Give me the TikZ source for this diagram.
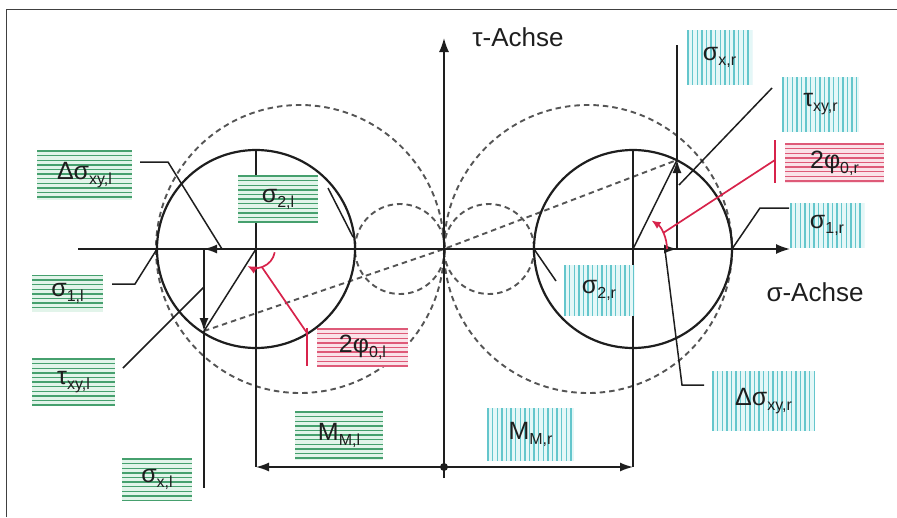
\documentclass[tikz,border=0pt]{standalone}
\usepackage{fontspec}
\setmainfont{Liberation Sans}
\usetikzlibrary{arrows.meta}
\definecolor{ink}{RGB}{30,30,30}
\definecolor{dashgray}{RGB}{85,85,85}
\definecolor{gline}{RGB}{70,160,110}
\definecolor{gbg}{RGB}{226,244,234}
\definecolor{cline}{RGB}{100,198,204}
\definecolor{cbg}{RGB}{228,247,247}
\definecolor{rline}{RGB}{222,90,120}
\definecolor{rbg}{RGB}{250,226,232}
\definecolor{redink}{RGB}{215,35,75}
\newcommand\sbs[1]{\raisebox{-5pt}{\fontsize{16}{16}\selectfont #1}}
\tikzset{
 hstripes/.style={path picture={\foreach \k in {0,...,16}{\draw[#1,line width=1.4pt] ([yshift=-\k*4.6pt-1pt]path picture bounding box.north west) -- ([yshift=-\k*4.6pt-1pt]path picture bounding box.north east);}}},
 vstripes/.style={path picture={\foreach \k in {0,...,30}{\draw[#1,line width=1.4pt] ([xshift=\k*4.6pt+1pt]path picture bounding box.north west) -- ([xshift=\k*4.6pt+1pt]path picture bounding box.south west);}}},
 lab/.style={inner sep=0pt, text=ink, font=\fontsize{25}{25}\selectfont},
 glab/.style={lab, fill=gbg, hstripes=gline},
 clab/.style={lab, fill=cbg, vstripes=cline},
 rlab/.style={lab, fill=rbg, hstripes=rline},
 axlab/.style={inner sep=0pt, text=ink, font=\fontsize{26}{26}\selectfont},
 ax/.style={draw=ink, line width=1.6pt},
 circ/.style={draw=ink, line width=2.2pt},
 dsh/.style={draw=dashgray, line width=1.9pt, dash pattern=on 5.5pt off 4pt},
 ln/.style={draw=ink, line width=1.5pt},
 rl/.style={draw=redink, line width=1.7pt},
 bigtip/.style={-{Latex[length=14pt,width=10pt]}},
 tip/.style={-{Latex[length=13pt,width=9pt]}},
 redtip/.style={-{Latex[length=9pt,width=8pt]}},
 frame/.style={draw=ink!85, line width=1.8pt}
}
\begin{document}
\begin{tikzpicture}[x=1pt,y=-1pt]
\useasboundingbox (0,0) rectangle (897,517);
% frame
\coordinate (F1) at (6.5,517); \coordinate (F2) at (6.5,9.5); \coordinate (F3) at (897,9.5);
\draw[frame] (F1) -- (F2) -- (F3);
% key points
\coordinate (O) at (444,249);
\coordinate (sL) at (78,249); \coordinate (sR) at (790,249);
\coordinate (tB) at (444,478); \coordinate (tT) at (444,38);
\coordinate (CL) at (256,249); \coordinate (CR) at (633,249);
\coordinate (PL) at (204,331); \coordinate (PR) at (677,160);
\coordinate (AL) at (204,249); \coordinate (AR) at (677,249);
\coordinate (S1L) at (157,249); \coordinate (S2L) at (355,249);
\coordinate (S1R) at (732,249); \coordinate (S2R) at (534,249);
\coordinate (DL) at (256,467); \coordinate (DM) at (444,467); \coordinate (DR) at (633,467);
\coordinate (TL) at (256,150); \coordinate (TR) at (633,150);
\coordinate (XLe) at (204,488); \coordinate (XRe) at (677,45);
% dashed circles
\draw[dsh] (300,249) circle[radius=144];
\draw[dsh] (588,249) circle[radius=144];
\draw[dsh] (400,249) circle[radius=45];
\draw[dsh] (489,249) circle[radius=45];
\draw[dsh] (PL) -- (O) -- (PR);
% Mohr circles
\draw[circ] (CL) circle[radius=99];
\draw[circ] (CR) circle[radius=99];
% axes
\draw[ax,bigtip] (sL) -- (sR);
\draw[ax,bigtip] (tB) -- (tT);
% verticals and dimension
\draw[ln] (TL) -- (DL);
\draw[ln] (TR) -- (DR);
\draw[ln,tip] (DM) -- (DL);
\draw[ln,tip] (DM) -- (DR);
\fill[ink] (DM) circle[radius=4];
% left construction
\draw[ln,tip] (CL) -- (AL);
\draw[ln,tip] (AL) -- (PL);
\draw[ln] (PL) -- (XLe);
\draw[ln] (CL) -- (PL);
% right construction
\draw[ln,tip] (CR) -- (AR);
\draw[ln,tip] (AR) -- (PR);
\draw[ln] (PR) -- (XRe);
\draw[ln] (CR) -- (PR);
% red angles
\draw[rl,redtip] ([shift={(10:19)}]CL) arc[start angle=10,end angle=117,radius=19];
\draw[rl,redtip] ([shift={(0:34)}]CR) arc[start angle=0,end angle=-57,radius=34];
\coordinate (RLs) at ([shift={(72:19)}]CL); \coordinate (RLe) at (307,333);
\coordinate (RLt1) at (307,328); \coordinate (RLt2) at (307,366);
\draw[rl] (RLs) -- (RLe); \draw[rl] (RLt1) -- (RLt2);
\coordinate (RRs) at ([shift={(-28:34)}]CR); \coordinate (RRe) at (775,160);
\coordinate (RRt1) at (775,140); \coordinate (RRt2) at (775,183);
\draw[rl] (RRs) -- (RRe); \draw[rl] (RRt1) -- (RRt2);
% leaders
\coordinate (q1) at (140,162); \coordinate (q1b) at (168,162); \coordinate (q1e) at (222,249);
\draw[ln] (q1) -- (q1b) -- (q1e);
\coordinate (q2) at (328,188); \coordinate (q2e) at (353,237);
\draw[ln] (q2) -- (q2e);
\coordinate (q3) at (112,284); \coordinate (q3b) at (135,284);
\draw[ln] (q3) -- (q3b) -- (S1L);
\coordinate (q4) at (123,368); \coordinate (q4e) at (204,287);
\draw[ln] (q4) -- (q4e);
\coordinate (q5e) at (556,281);
\draw[ln] (S2R) -- (q5e);
\coordinate (q6b) at (760,208); \coordinate (q6e) at (789,208);
\draw[ln] (S1R) -- (q6b) -- (q6e);
\coordinate (q7) at (679,185); \coordinate (q7e) at (772,88);
\draw[ln] (q7) -- (q7e);
\coordinate (q8) at (665,250); \coordinate (q8b) at (682,385); \coordinate (q8e) at (704,385);
\draw[ln] (q8) -- (q8b) -- (q8e);
% axis labels
\node[axlab] (tauax) at (518,37) {τ-Achse};
\node[axlab] (sigax) at (815,292) {σ-Achse};
% green (left) labels
\node[glab, minimum width=95pt, minimum height=50pt] (lDxyl) at (84.5,175) {Δσ\sbs{xy,l}};
\node[glab, minimum width=80pt, minimum height=48pt] (lS2l) at (278,199) {σ\sbs{2,l}};
\node[glab, minimum width=71pt, minimum height=37pt] (lS1l) at (67.5,293) {σ\sbs{1,l}};
\node[glab, minimum width=83pt, minimum height=48pt] (lTxyl) at (73.5,382) {τ\sbs{xy,l}};
\node[glab, minimum width=70pt, minimum height=43pt] (lSxl) at (157,479.5) {σ\sbs{x,l}};
\node[glab, minimum width=88pt, minimum height=49pt] (lMl) at (339,435.5) {M\sbs{M,l}};
% red labels
\node[rlab, minimum width=91pt, minimum height=38pt] (lPhil) at (362.5,347) {2φ\sbs{0,l}};
\node[rlab, minimum width=99pt, minimum height=40pt] (lPhir) at (834.5,163) {2φ\sbs{0,r}};
% cyan (right) labels
\node[clab, minimum width=87pt, minimum height=53pt] (lMr) at (530.5,434.5) {M\sbs{M,r}};
\node[clab, minimum width=70pt, minimum height=51pt] (lS2r) at (599,290.5) {σ\sbs{2,r}};
\node[clab, minimum width=103pt, minimum height=60pt] (lDxyr) at (763.5,401) {Δσ\sbs{xy,r}};
\node[clab, minimum width=65pt, minimum height=55pt] (lSxr) at (719.5,57.5) {σ\sbs{x,r}};
\node[clab, minimum width=77pt, minimum height=55pt] (lTxyr) at (820.5,104.5) {τ\sbs{xy,r}};
\node[clab, minimum width=74pt, minimum height=45pt] (lS1r) at (827,225.5) {σ\sbs{1,r}};
\end{tikzpicture}
\end{document}
